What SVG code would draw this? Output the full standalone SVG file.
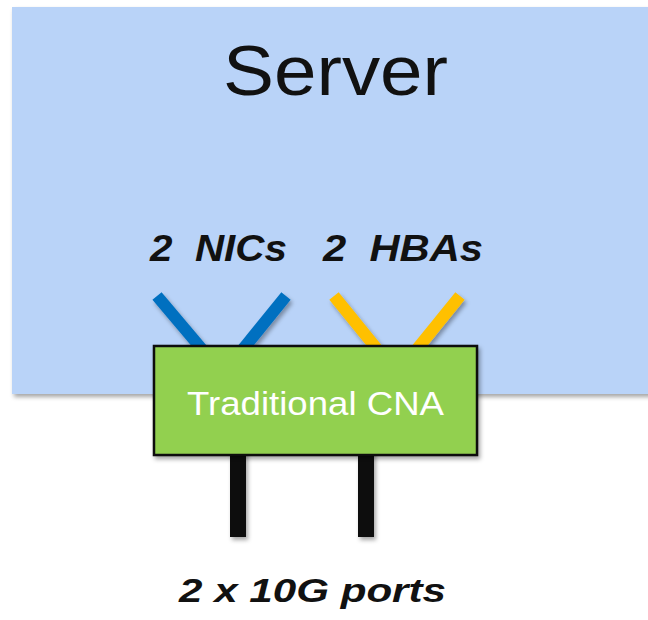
<svg xmlns="http://www.w3.org/2000/svg" width="648" height="620" viewBox="0 0 648 620">
<defs>
<filter id="sh" x="-20%" y="-20%" width="140%" height="140%">
<feDropShadow dx="2" dy="3" stdDeviation="2" flood-color="#000" flood-opacity="0.35"/>
</filter>
<style>
.lbl{font-family:"Liberation Sans",Arial,sans-serif;font-weight:bold;font-style:italic;fill:#111;white-space:pre}
.blue{stroke:#0070C0;stroke-width:12;fill:none}
.yel{stroke:#FFC000;stroke-width:12;fill:none}
.port{stroke:#111;stroke-width:16;fill:none}
</style>
</defs>
<rect width="648" height="620" fill="#fff"/>
<g id="server">
<rect x="12" y="7" width="650" height="387" fill="#B9D3F8" filter="url(#sh)"/>
<text x="335.5" y="95" font-family="Liberation Sans,Arial,sans-serif" font-size="70" fill="#111" text-anchor="middle" textLength="225" lengthAdjust="spacingAndGlyphs">Server</text>
</g>
<g id="labels">
<text class="lbl" x="150" y="261" font-size="37" textLength="137" lengthAdjust="spacingAndGlyphs">2  NICs</text>
<text class="lbl" x="323" y="261" font-size="37" textLength="160" lengthAdjust="spacingAndGlyphs">2  HBAs</text>
</g>
<g id="connectors" filter="url(#sh)">
<line class="blue" x1="157" y1="296" x2="206" y2="354"/>
<line class="blue" x1="286" y1="296" x2="239" y2="354"/>
<line class="yel" x1="334" y1="296" x2="381" y2="354"/>
<line class="yel" x1="460" y1="296" x2="413" y2="354"/>
<line class="port" x1="238" y1="450" x2="238" y2="537"/>
<line class="port" x1="366" y1="450" x2="366" y2="537"/>
</g>
<g id="cna">
<rect x="154" y="346" width="323" height="109" fill="#92D050" stroke="#111" stroke-width="2.5" filter="url(#sh)"/>
<text x="315.5" y="415" font-family="Liberation Sans,Arial,sans-serif" font-size="33" fill="#fff" text-anchor="middle" textLength="257" lengthAdjust="spacingAndGlyphs">Traditional CNA</text>
</g>
<g id="ports-label">
<text class="lbl" x="179" y="602" font-size="33" textLength="267" lengthAdjust="spacingAndGlyphs">2 x 10G ports</text>
</g>
</svg>
